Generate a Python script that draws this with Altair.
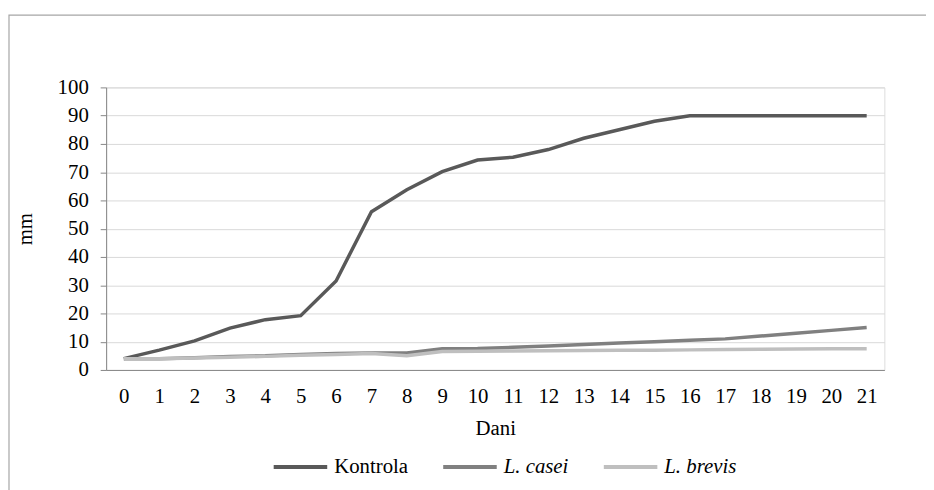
import altair as alt
import pandas as pd

days = list(range(22))
kontrola = [4, 7, 10.3, 14.8, 17.8, 19.2, 31.5, 56, 63.8, 70.2, 74.3, 75.3, 78, 82, 85, 88, 90, 90, 90, 90, 90, 90]
casei = [4, 4, 4.3, 4.8, 5, 5.5, 5.8, 6, 6, 7.5, 7.6, 8, 8.5, 9, 9.5, 10, 10.5, 11, 12, 13, 14, 15]
brevis = [4, 4, 4.2, 4.5, 4.8, 5.2, 5.5, 5.8, 5, 6.5, 6.6, 6.7, 6.8, 6.9, 7, 7, 7.1, 7.2, 7.3, 7.4, 7.5, 7.5]
series_names = ["Kontrola", "L. casei", "L. brevis"]
series_colors = ["#595959", "#808080", "#bfbfbf"]
y_ticks = list(range(0, 101, 10))

rows = []
for name, vals in zip(series_names, [kontrola, casei, brevis]):
    for d, v in zip(days, vals):
        rows.append({"Dan": d, "mm": v, "Serija": name})
df = pd.DataFrame(rows)

FONT = "Liberation Serif"
FS = 21

frame = alt.Chart(pd.DataFrame({"a": [0]})).mark_rect(
    fill=None, stroke="#a6a6a6", strokeWidth=1.2, clip=False
).encode(
    x=alt.value(-98), x2=alt.value(835), y=alt.value(-73), y2=alt.value(420)
)

lines = alt.Chart(df).mark_line(strokeWidth=3.5, clip=False).encode(
    x=alt.X("Dan:O", sort=days,
            scale=alt.Scale(paddingInner=0, paddingOuter=0.5),
            axis=alt.Axis(title="Dani", labelAngle=0, ticks=False, grid=False,
                          domainColor="#868686", labelFont=FONT, labelFontSize=FS,
                          labelColor="#000000", labelPadding=16,
                          titleFont=FONT, titleFontSize=FS, titleFontWeight="normal",
                          titleColor="#000000", titlePadding=11)),
    y=alt.Y("mm:Q", scale=alt.Scale(domain=[0, 100], nice=False),
            axis=alt.Axis(title="mm", values=y_ticks, tickSize=6, tickColor="#868686",
                          domainColor="#868686", gridColor="#d9d9d9", gridWidth=1,
                          labelFont=FONT, labelFontSize=FS, labelColor="#000000",
                          labelPadding=12,
                          titleFont=FONT, titleFontSize=FS, titleFontWeight="normal",
                          titleColor="#000000", titlePadding=22)),
    color=alt.Color("Serija:N",
                    scale=alt.Scale(domain=series_names, range=series_colors),
                    legend=alt.Legend(title=None, orient="none", direction="horizontal",
                                      legendX=167, legendY=354, padding=0,
                                      symbolType="stroke", symbolSize=2916,
                                      symbolStrokeWidth=4, labelFont=FONT,
                                      labelFontSize=FS, labelColor="#000000",
                                      labelOffset=5, columnPadding=27,
                                      labelFontStyle=alt.ExprRef("datum.label == 'Kontrola' ? 'normal' : 'italic'"))),
    order=alt.Order("Dan:O"),
    detail="Serija:N",
)

chart = alt.layer(frame, lines).properties(
    width=785, height=285,
    autosize=alt.AutoSizeParams(type="none"),
    padding={"left": 99, "top": 78, "right": 42, "bottom": 119},
).configure_view(stroke=None).configure(background="white")

chart.save("out.html", embed_options={"renderer": "svg", "actions": False})
